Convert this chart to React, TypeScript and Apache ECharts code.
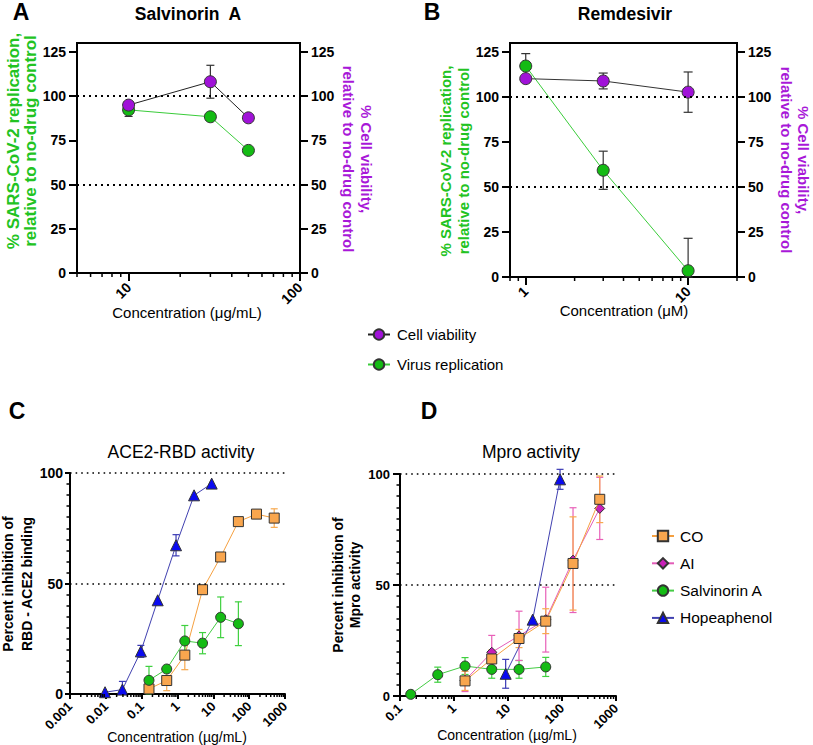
import { useEffect, useRef } from "react";
import * as echarts from "echarts";

// ---------- Panel A: Salvinorin A (µg/mL) ----------
const aConc = [10, 30, 50];
const aVirus = [92.2, 88.3, 69.3];
const aVirusSd = [3.7, 0, 0];
const aCell = [94.9, 108.1, 87.7];
const aCellSd = [0, 9.3, 0];

// ---------- Panel B: Remdesivir (µM) ----------
const bConc = [1, 3, 10];
const bVirus = [117.2, 59.3, 3.5];
const bVirusSd = [6.9, 10.6, 18];
const bCell = [110.2, 108.9, 102.7];
const bCellSd = [0, 4.4, 11.2];

// ---------- Panel C: ACE2-RBD activity ----------
const cHopeConc = [0.0095, 0.029, 0.095, 0.28, 0.91, 2.9, 9];
const cHope = [0.8, 2, 19.3, 42.4, 67.3, 89.9, 95.2];
const cHopeSd = [0, 3.7, 2.7, 0, 4.8, 0, 0];
const cCOConc = [0.16, 0.5, 1.6, 5, 16, 50, 160, 500];
const cCO = [2.3, 6.1, 17.6, 47.2, 62, 78, 81.4, 79.6];
const cCOSd = [0, 4.6, 6.6, 0, 0, 0, 0, 4.2];
const cSalvConc = [0.16, 0.5, 1.6, 5, 16, 50];
const cSalv = [6.2, 11.3, 24, 23, 34.7, 31.8];
const cSalvSd = [6.3, 0, 7, 4.8, 9.2, 9.9];

// ---------- Panel D: Mpro activity ----------
const dSalvConc = [0.158, 0.5, 1.6, 5, 16, 50];
const dSalv = [0.75, 9.6, 13.5, 12, 12, 13.1];
const dSalvSd = [0, 3.4, 3.8, 4, 4, 4.3];
const dAIConc = [1.6, 5, 16, 50, 160, 500];
const dAI = [7, 19.7, 27.1, 34.4, 61.2, 84.5];
const dAISd = [5, 7.6, 11.1, 14.6, 23.6, 14];
const dCOConc = [1.6, 5, 16, 50, 160, 500];
const dCO = [6.8, 16.7, 25.9, 33.7, 59.7, 88.6];
const dCOSd = [4.3, 4, 4.1, 5.6, 21, 10.5];
const dHopeConc = [9.05, 28.6, 92];
const dHope = [10, 34.4, 97.6];
const dHopeSd = [6.5, 0, 4.5];

// ---------- Tick labels ----------
const abYTicks = [0, 25, 50, 75, 100, 125];
const aXTicks = [10, 100];
const bXTicks = [1, 10];
const cXTicks = [0.001, 0.01, 0.1, 1, 10, 100, 1000];
const dXTicks = [0.1, 1, 10, 100, 1000];
const refLines = [100, 50];

const FONT = '"Liberation Sans", Arial, sans-serif';
const lg = Math.log10;

const GREEN_TXT = "#22c322";
const PURPLE_TXT = "#a818d8";
const PURPLE = "#a012d8";
const GREEN = "#14bb14";

function minorTicks(min: number, max: number): number[] {
  const out: number[] = [];
  for (let p = Math.floor(lg(min)) - 1; p <= Math.ceil(lg(max)); p++) {
    for (let k = 2; k <= 9; k++) {
      const v = k * Math.pow(10, p);
      if (v >= min * 0.999 && v <= max * 1.001) out.push(lg(v));
    }
  }
  return out;
}

function fmtLog(v: number) {
  return String(Number(Math.pow(10, v).toPrecision(6)));
}

function lineSeries(name: string, xs: number[], ys: number[], xi: number, yi: number, o: any) {
  return {
    type: "line",
    name,
    xAxisIndex: xi,
    yAxisIndex: yi,
    data: xs.map((x, i) => [lg(x), ys[i]]),
    symbol: o.symbol || "circle",
    symbolSize: o.size || 10,
    itemStyle: { color: o.fill, borderColor: "#333", borderWidth: 1 },
    lineStyle: { color: o.line, width: 1 },
    z: o.z || 3,
    markLine: o.markLine,
  };
}

function errSeries(xs: number[], ys: number[], sds: number[], xi: number, yi: number, color: string, cap: number) {
  const data: number[][] = [];
  xs.forEach((x, i) => {
    if (sds[i] > 0) data.push([lg(x), Math.max(0, ys[i] - sds[i]), ys[i] + sds[i]]);
  });
  return {
    type: "custom",
    xAxisIndex: xi,
    yAxisIndex: yi,
    silent: true,
    z: 2,
    encode: { x: 0, y: [1, 2] },
    data,
    renderItem: (_p: any, api: any) => {
      const lo = api.coord([api.value(0), api.value(1)]);
      const hi = api.coord([api.value(0), api.value(2)]);
      const st = { stroke: color, lineWidth: 1.2 };
      return {
        type: "group",
        children: [
          { type: "line", shape: { x1: lo[0], y1: lo[1], x2: hi[0], y2: hi[1] }, style: st },
          { type: "line", shape: { x1: lo[0] - cap / 2, y1: lo[1], x2: lo[0] + cap / 2, y2: lo[1] }, style: st },
          { type: "line", shape: { x1: hi[0] - cap / 2, y1: hi[1], x2: hi[0] + cap / 2, y2: hi[1] }, style: st },
        ],
      };
    },
  };
}

function minorTickSeries(vals: number[], xi: number, yi: number, len: number) {
  return {
    type: "custom",
    xAxisIndex: xi,
    yAxisIndex: yi,
    silent: true,
    clip: false,
    z: 5,
    data: vals.map((v) => [v, 0]),
    renderItem: (_p: any, api: any) => {
      const c = api.coord([api.value(0), api.value(1)]);
      return {
        type: "line",
        shape: { x1: c[0], y1: c[1], x2: c[0], y2: c[1] + len },
        style: { stroke: "#000", lineWidth: 1.5 },
      };
    },
  };
}

function markLines(width: number, dash: number[]) {
  return {
    silent: true,
    symbol: "none",
    label: { show: false },
    lineStyle: { type: dash, color: "#000", width },
    data: refLines.map((v) => ({ yAxis: v })),
  };
}

function logXAxis(grid: number, min: number, max: number, ticks: number[], fontSize: number, tickLen: number, margin: number) {
  const tv = ticks.map(lg);
  return {
    gridIndex: grid,
    type: "value",
    min: lg(min),
    max: lg(max),
    splitLine: { show: false },
    axisLine: { onZero: false, lineStyle: { color: "#000", width: 2 } },
    axisTick: { customValues: tv, length: tickLen, lineStyle: { color: "#000", width: 2 } },
    axisLabel: {
      customValues: tv,
      rotate: 45,
      formatter: fmtLog,
      fontWeight: "bold",
      fontSize,
      color: "#000",
      margin,
      fontFamily: FONT,
    },
  };
}

function abYAxis(grid: number, pos: string) {
  return {
    gridIndex: grid,
    type: "value",
    position: pos,
    min: 0,
    max: 130,
    splitLine: { show: false },
    axisLine: { show: true, onZero: false, lineStyle: { color: "#000", width: 2 } },
    axisTick: { show: true, customValues: abYTicks, length: 8, lineStyle: { color: "#000", width: 2 } },
    axisLabel: { customValues: abYTicks, fontWeight: "bold", fontSize: 14, color: "#000", margin: 11, fontFamily: FONT },
  };
}

function pctYAxis(grid: number, fontSize: number, margin: number, tickLen: number) {
  return {
    gridIndex: grid,
    type: "value",
    min: 0,
    max: 100,
    interval: 50,
    splitLine: { show: false },
    axisLine: { show: true, onZero: false, lineStyle: { color: "#000", width: 2 } },
    axisTick: { show: true, length: tickLen, lineStyle: { color: "#000", width: 2 } },
    minorTick: { show: true, splitNumber: 10, length: 3.5, lineStyle: { color: "#000", width: 1.5 } },
    axisLabel: { fontWeight: "bold", fontSize, color: "#000", margin, fontFamily: FONT },
  };
}

function txt(text: string, x: number, y: number, font: string, fill = "#000", rotation = 0, lineHeight?: number) {
  return {
    type: "text",
    x,
    y,
    rotation,
    silent: true,
    style: { text, font, fill, align: "center", verticalAlign: "middle", lineHeight },
  };
}

export default function App() {
  const ref = useRef<HTMLDivElement>(null);
  useEffect(() => {
    if (!ref.current) return;
    const chart = echarts.init(ref.current, undefined, { renderer: "svg" });

    const option: any = {
      animation: false,
      backgroundColor: "#fff",
      textStyle: { fontFamily: FONT },
      grid: [
        { left: 77, top: 43, width: 223, height: 230, show: true, borderColor: "#000", borderWidth: 2, backgroundColor: "transparent" },
        { left: 510, top: 43, width: 227, height: 234, show: true, borderColor: "#000", borderWidth: 2, backgroundColor: "transparent" },
        { left: 70, top: 473, width: 215, height: 221 },
        { left: 400, top: 474, width: 216, height: 222 },
      ],
      xAxis: [
        logXAxis(0, 5, 100, aXTicks, 14, 8, 12),
        logXAxis(1, 0.8, 20, bXTicks, 14, 8, 12),
        logXAxis(2, 0.001, 1000, cXTicks, 13, 5, 10),
        logXAxis(3, 0.1, 1000, dXTicks, 13, 5, 10),
      ],
      yAxis: [
        abYAxis(0, "left"),
        abYAxis(0, "right"),
        abYAxis(1, "left"),
        abYAxis(1, "right"),
        pctYAxis(2, 14, 7, 5),
        pctYAxis(3, 13, 10, 7),
      ],
      legend: [
        {
          data: ["Cell viability", "Virus replication"],
          orient: "vertical",
          left: 362,
          top: 322,
          itemWidth: 22,
          itemHeight: 13,
          itemGap: 15,
          selectedMode: false,
          textStyle: { fontSize: 15, color: "#000", fontFamily: FONT, padding: [0, 0, 0, 2] },
        },
        {
          data: ["CO", "AI", "Salvinorin A", "Hopeaphenol"],
          orient: "vertical",
          left: 646,
          top: 523,
          itemWidth: 22,
          itemHeight: 13,
          itemGap: 11.3,
          selectedMode: false,
          textStyle: { fontSize: 15.5, color: "#000", fontFamily: FONT, padding: [0, 0, 0, 1] },
        },
      ],
      series: [
        // Panel A
        errSeries(aConc, aVirus, aVirusSd, 0, 0, "#333", 8),
        errSeries(aConc, aCell, aCellSd, 0, 1, "#333", 8),
        lineSeries("Virus replication", aConc, aVirus, 0, 0, { fill: GREEN, line: "#3acc3a", size: 12, markLine: markLines(2, [2, 4]) }),
        lineSeries("Cell viability", aConc, aCell, 0, 1, { fill: PURPLE, line: "#222", size: 12 }),
        minorTickSeries(minorTicks(5, 100), 0, 0, 4),
        // Panel B
        errSeries(bConc, bVirus, bVirusSd, 1, 2, "#333", 9),
        errSeries(bConc, bCell, bCellSd, 1, 3, "#333", 9),
        lineSeries("Virus replication", bConc, bVirus, 1, 2, { fill: GREEN, line: "#3acc3a", size: 12, markLine: markLines(2, [2, 4]) }),
        lineSeries("Cell viability", bConc, bCell, 1, 3, { fill: PURPLE, line: "#333", size: 12 }),
        minorTickSeries(minorTicks(0.8, 20), 1, 2, 4),
        // Panel C
        errSeries(cHopeConc, cHope, cHopeSd, 2, 4, "#3a3ab5", 7),
        errSeries(cCOConc, cCO, cCOSd, 2, 4, "#f7a94f", 7),
        errSeries(cSalvConc, cSalv, cSalvSd, 2, 4, "#3fd03f", 7),
        lineSeries("Hopeaphenol", cHopeConc, cHope, 2, 4, { symbol: "triangle", fill: "#0a0af0", line: "#4040b0", size: 11, markLine: markLines(1.6, [1.6, 4]) }),
        lineSeries("CO", cCOConc, cCO, 2, 4, { symbol: "rect", fill: "#f9a64e", line: "#f5a040", size: 10 }),
        lineSeries("Salvinorin A", cSalvConc, cSalv, 2, 4, { fill: GREEN, line: "#44cc44", size: 10, z: 4 }),
        minorTickSeries(minorTicks(0.001, 1000), 2, 4, 3),
        // Panel D
        errSeries(dSalvConc, dSalv, dSalvSd, 3, 5, "#3fd03f", 7),
        errSeries(dAIConc, dAI, dAISd, 3, 5, "#e860b8", 7),
        errSeries(dCOConc, dCO, dCOSd, 3, 5, "#f7a94f", 7),
        errSeries(dHopeConc, dHope, dHopeSd, 3, 5, "#3a3ab5", 7),
        lineSeries("Salvinorin A", dSalvConc, dSalv, 3, 5, { fill: GREEN, line: "#44cc44", size: 10, markLine: markLines(1.6, [1.6, 4]) }),
        lineSeries("AI", dAIConc, dAI, 3, 5, { symbol: "diamond", fill: "#c81fb8", line: "#e35cb8", size: 10 }),
        lineSeries("CO", dCOConc, dCO, 3, 5, { symbol: "rect", fill: "#f9a64e", line: "#f5a040", size: 10, z: 4 }),
        lineSeries("Hopeaphenol", dHopeConc, dHope, 3, 5, { symbol: "triangle", fill: "#0a0af0", line: "#4040b0", size: 11 }),
        minorTickSeries(minorTicks(0.1, 1000), 3, 5, 3),
      ],
      graphic: [
        txt("A", 21, 12, `bold 23px ${FONT}`),
        txt("B", 432, 12, `bold 23px ${FONT}`),
        txt("C", 17, 411, `bold 23px ${FONT}`),
        txt("D", 429, 411, `bold 23px ${FONT}`),
        txt("Salvinorin  A", 188, 14, `bold 17.5px ${FONT}`),
        txt("Remdesivir", 625, 14, `bold 17.5px ${FONT}`),
        txt("ACE2-RBD activity", 181, 452, `17.5px ${FONT}`),
        txt("Mpro activity", 531, 452, `17.5px ${FONT}`),
        txt("% SARS-CoV-2 replication,\nrelative to no-drug control", 22, 141, `bold 17px ${FONT}`, GREEN_TXT, Math.PI / 2, 17),
        txt("% Cell viability,\nrelative to no-drug control", 357, 159, `bold 15px ${FONT}`, PURPLE_TXT, -Math.PI / 2, 18),
        txt("% SARS-CoV-2 replication,\nrelative to no-drug control", 454, 161, `bold 15px ${FONT}`, GREEN_TXT, Math.PI / 2, 18),
        txt("% Cell viability,\nrelative to no-drug control", 795, 160, `bold 15px ${FONT}`, PURPLE_TXT, -Math.PI / 2, 17),
        txt("Concentration (μg/mL)", 187, 312, `15px ${FONT}`),
        txt("Concentration (μM)", 624, 310, `15px ${FONT}`),
        txt("Percent inhibition of\nRBD - ACE2 binding", 17, 584, `bold 14px ${FONT}`, "#000", Math.PI / 2, 19),
        txt("Percent inhibition of\nMpro activity", 346, 585, `bold 14px ${FONT}`, "#000", Math.PI / 2, 17),
        txt("Concentration (µg/mL)", 177, 737, `14px ${FONT}`),
        txt("Concentration (µg/mL)", 507, 735, `14px ${FONT}`),
      ],
    };

    chart.setOption(option);
    return () => chart.dispose();
  }, []);

  return (
    <div
      ref={ref}
      style={{ position: "fixed", left: 0, top: 0, width: 813, height: 745, background: "#fff" }}
    />
  );
}
